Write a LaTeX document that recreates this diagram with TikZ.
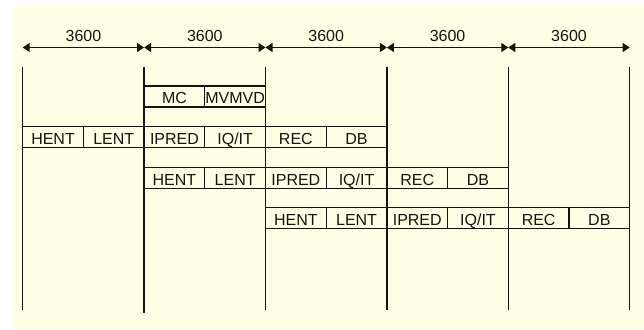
\documentclass[tikz,border=0pt]{standalone}
\usepackage{fontspec}
\setmainfont{Liberation Sans}
\usetikzlibrary{arrows.meta,calc}
\definecolor{bgyellow}{RGB}{255,255,229}
\definecolor{ink}{RGB}{20,20,15}
\begin{document}
\begin{tikzpicture}[x=1pt,y=-1pt,
  every node/.style={font=\fontsize{16}{19}\selectfont, text=ink},
  cell/.style={draw=ink, line width=1.1pt, minimum width=60.7pt, minimum height=21pt,
    inner sep=0pt, outer sep=0pt, anchor=west, text height=14.8pt, text depth=0pt},
  tick/.style={draw=ink, line width=1.3pt},
  dim/.style={draw=ink, line width=1.3pt, {Triangle[length=7pt,width=9pt]}-{Triangle[length=7pt,width=9pt]}},
  dimlabel/.style={inner sep=0pt}]
\useasboundingbox (0,0) rectangle (644,329);
\fill[bgyellow] (12,6) rectangle (644,329);
% vertical ticks
\foreach \i/\x in {0/22.7,1/144.1,2/265.5,3/386.9,4/508.3,5/629.7}{
  \coordinate (t\i) at (\x,66.7);
  \coordinate (b\i) at (\x,310);
  \coordinate (a\i) at (\x,47.5);
}
\coordinate (b1) at (144.1,313.3);
\foreach \i in {0,...,5}{ \draw[tick] (t\i) -- (b\i); }
% dimension arrows
\foreach \i/\j in {0/1,1/2,2/3,3/4,4/5}{
  \draw[dim] (a\i) -- (a\j);
  \node[dimlabel] (d\i) at ($(a\i)!0.5!(a\j)+(0,-12)$) {3600};
}
% row A
\node[cell] (mc) at (144.1,96.5) {MC};
\node[cell] (mv) at (mc.east) {MVMVD};
% row B
\node[cell] (b-hent) at (22.7,137.2) {HENT};
\node[cell] (b-lent) at (b-hent.east) {LENT};
\node[cell] (b-ipred) at (b-lent.east) {IPRED};
\node[cell] (b-iq) at (b-ipred.east) {IQ/IT};
\node[cell] (b-rec) at (b-iq.east) {REC};
\node[cell] (b-db) at (b-rec.east) {DB};
% row C
\node[cell] (c-hent) at (144.1,177.8) {HENT};
\node[cell] (c-lent) at (c-hent.east) {LENT};
\node[cell] (c-ipred) at (c-lent.east) {IPRED};
\node[cell] (c-iq) at (c-ipred.east) {IQ/IT};
\node[cell] (c-rec) at (c-iq.east) {REC};
\node[cell] (c-db) at (c-rec.east) {DB};
% row D
\node[cell] (d-hent) at (265.5,218.4) {HENT};
\node[cell] (d-lent) at (d-hent.east) {LENT};
\node[cell] (d-ipred) at (d-lent.east) {IPRED};
\node[cell] (d-iq) at (d-ipred.east) {IQ/IT};
\node[cell] (d-rec) at (d-iq.east) {REC};
\node[cell] (d-db) at (d-rec.east) {DB};
\end{tikzpicture}
\end{document}
